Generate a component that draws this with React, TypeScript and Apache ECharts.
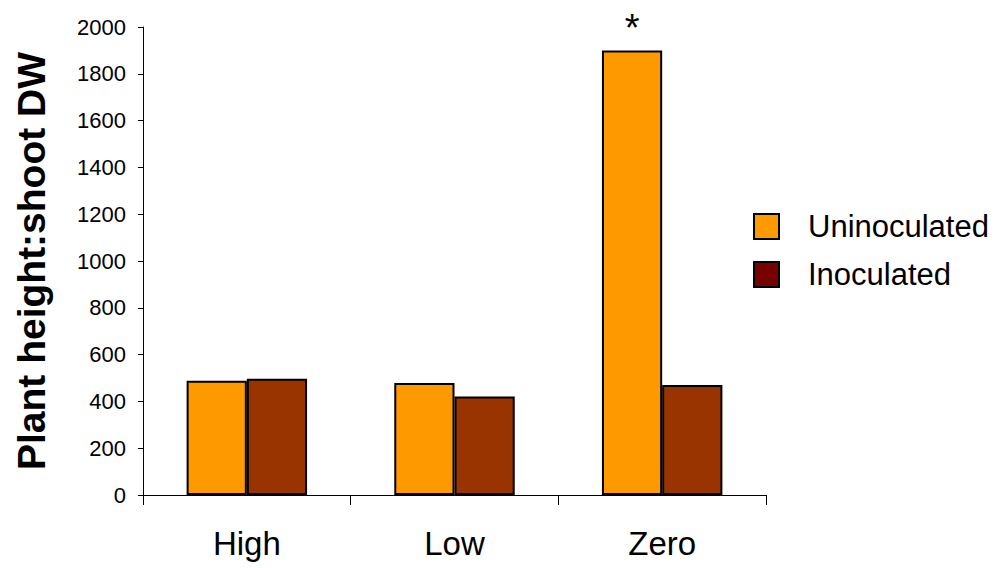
import React, { useEffect, useRef } from "react";
import * as echarts from "echarts";

const categories = ["High", "Low", "Zero"];
const uninoculated = [488, 479, 1900];
const inoculated = [497, 421, 470];
const yTicks = { min: 0, max: 2000, interval: 200 };
const seriesNames = ["Uninoculated", "Inoculated"];
const significance = ["", "", "*"];

export default function App() {
  const ref = useRef<HTMLDivElement>(null);
  useEffect(() => {
    if (!ref.current) return;
    const chart = echarts.init(ref.current, null, { renderer: "svg" });
    const font = "'Liberation Sans', Arial, sans-serif";
    chart.setOption({
      animation: false,
      backgroundColor: "#ffffff",
      textStyle: { fontFamily: font },
      grid: { left: 143, right: 232, top: 27, bottom: 73, containLabel: false },
      legend: {
        orient: "vertical",
        left: 753,
        top: 211,
        padding: 0,
        itemWidth: 25,
        itemHeight: 25,
        itemGap: 17,
        icon: "rect",
        textStyle: { fontSize: 31, color: "#000", fontFamily: font, padding: [0, 0, 0, 24] },
        data: [
          { name: seriesNames[0], itemStyle: { color: "#FF9900", borderColor: "#000", borderWidth: 2 } },
          { name: seriesNames[1], itemStyle: { color: "#770000", borderColor: "#000", borderWidth: 2 } },
        ],
      },
      xAxis: {
        type: "category",
        data: categories,
        axisLine: { lineStyle: { color: "#000", width: 1 } },
        axisTick: { show: true, length: 10, lineStyle: { color: "#000" } },
        axisLabel: { color: "#000", fontSize: 33, margin: 32, fontFamily: font },
      },
      yAxis: {
        type: "value",
        min: yTicks.min,
        max: yTicks.max,
        interval: yTicks.interval,
        name: "Plant height:shoot DW",
        nameLocation: "middle",
        nameGap: 92,
        nameTextStyle: { fontSize: 39, fontWeight: "bold", color: "#000", fontFamily: font },
        axisLine: { show: true, lineStyle: { color: "#000", width: 1 } },
        axisTick: { show: true, length: 5, lineStyle: { color: "#000" } },
        axisLabel: { color: "#000", fontSize: 22, margin: 17, fontFamily: font, formatter: (v: number) => String(v) },
        splitLine: { show: false },
      },
      series: [
        {
          name: seriesNames[0],
          type: "bar",
          barGap: "0%",
          barCategoryGap: "42%",
          itemStyle: { color: "#FF9900", borderColor: "#000", borderWidth: 2 },
          data: uninoculated.map((v, i) => ({
            value: v,
            label: significance[i]
              ? { show: true, position: "top", distance: 3, formatter: significance[i], fontSize: 38, color: "#000" }
              : { show: false },
          })),
        },
        {
          name: seriesNames[1],
          type: "bar",
          itemStyle: { color: "#993300", borderColor: "#000", borderWidth: 2 },
          data: inoculated,
        },
      ],
    });
    return () => chart.dispose();
  }, []);
  return <div ref={ref} style={{ width: 998, height: 568, position: "absolute", left: 0, top: 0 }} />;
}
